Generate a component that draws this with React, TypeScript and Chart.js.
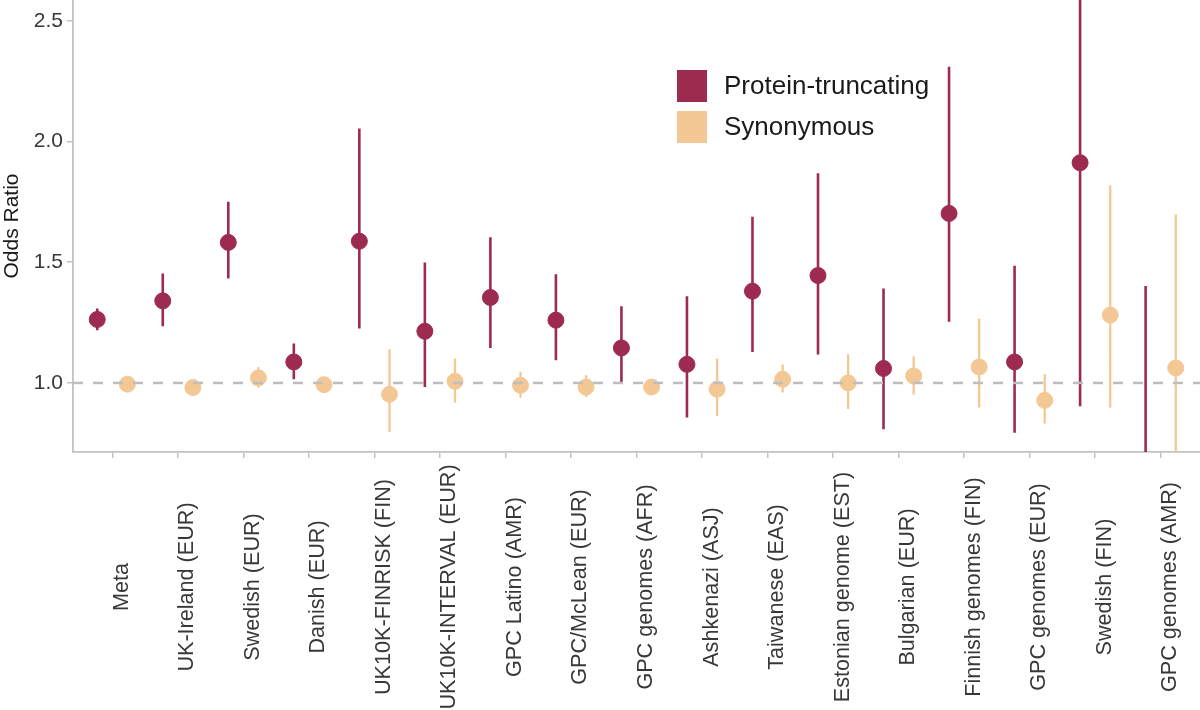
import React, { useEffect, useRef } from 'react';
import { Chart, registerables } from 'chart.js';

Chart.register(...registerables);

const categories = [
  'Meta',
  'UK-Ireland (EUR)',
  'Swedish (EUR)',
  'Danish (EUR)',
  'UK10K-FINRISK (FIN)',
  'UK10K-INTERVAL (EUR)',
  'GPC Latino (AMR)',
  'GPC/McLean (EUR)',
  'GPC genomes (AFR)',
  'Ashkenazi (ASJ)',
  'Taiwanese (EAS)',
  'Estonian genome (EST)',
  'Bulgarian (EUR)',
  'Finnish genomes (FIN)',
  'GPC genomes (EUR)',
  'Swedish (FIN)',
  'GPC genomes (AMR)',
];

const ptOR = [1.263, 1.34, 1.582, 1.087, 1.587, 1.214, 1.354, 1.26, 1.145, 1.077, 1.38, 1.445, 1.06, 1.702, 1.087, 1.912, 0.62];
const ptLow = [1.218, 1.235, 1.433, 1.015, 1.225, 0.983, 1.145, 1.094, 0.997, 0.857, 1.128, 1.118, 0.808, 1.253, 0.794, 0.903, 0.27];
const ptHigh = [1.308, 1.453, 1.75, 1.163, 2.054, 1.499, 1.603, 1.45, 1.318, 1.359, 1.688, 1.868, 1.391, 2.31, 1.485, 3.4, 1.401];

const synOR = [0.995, 0.981, 1.021, 0.993, 0.953, 1.007, 0.99, 0.983, 0.983, 0.974, 1.015, 1.0, 1.029, 1.066, 0.928, 1.281, 1.062];
const synLow = [0.98, 0.966, 0.98, 0.978, 0.797, 0.919, 0.939, 0.942, 0.955, 0.863, 0.96, 0.892, 0.952, 0.898, 0.832, 0.898, 0.55];
const synHigh = [1.01, 0.997, 1.066, 1.008, 1.14, 1.101, 1.046, 1.032, 1.015, 1.101, 1.076, 1.119, 1.111, 1.267, 1.036, 1.819, 1.698];

const yTickValues = [1.0, 1.5, 2.0, 2.5];
const yMin = 0.714;
const yMax = 2.586;
const refValue = 1.0;
const seriesNames = ['Protein-truncating', 'Synonymous'];

const PT_COLOR = '#9D2A4F';
const SYN_COLOR = '#F3C894';
const AXIS_COLOR = '#C2C2C2';
const REF_COLOR = '#BEBEBE';
const DODGE = 0.23;
const FONT = "'Liberation Sans', Arial, sans-serif";

function barData(off: number, low: number[], high: number[]) {
  const out: any[] = [];
  low.forEach((l, i) => {
    out.push({ x: i + off, y: l }, { x: i + off, y: high[i] }, { x: i + off, y: null });
  });
  return out;
}

function pointData(off: number, vals: number[]) {
  return vals.map((v, i) => ({ x: i + off, y: v }));
}

const overlayPlugin = {
  id: 'overlay',
  afterDraw(chart: any) {
    const ctx = chart.ctx;
    const xs = chart.scales.x;
    ctx.save();
    // x tick labels, rotated and centred
    ctx.font = `21.6px ${FONT}`;
    ctx.fillStyle = '#383838';
    ctx.textAlign = 'center';
    ctx.textBaseline = 'alphabetic';
    categories.forEach((c, i) => {
      const px = xs.getPixelForValue(i);
      ctx.save();
      ctx.translate(px + 15.5, 587);
      ctx.rotate(-Math.PI / 2);
      ctx.fillText(c, 0, 0);
      ctx.restore();
    });
    // legend
    const colors = [PT_COLOR, SYN_COLOR];
    ctx.font = `26px ${FONT}`;
    ctx.textAlign = 'left';
    ctx.textBaseline = 'middle';
    seriesNames.forEach((name, i) => {
      const top = 70 + i * 41;
      ctx.fillStyle = colors[i];
      ctx.fillRect(677, top, 30, 32);
      ctx.fillStyle = '#1a1a1a';
      ctx.fillText(name, 724, top + 17);
    });
    ctx.restore();
  },
};

export default function App() {
  const ref = useRef<HTMLCanvasElement | null>(null);

  useEffect(() => {
    if (!ref.current) return;
    const chart = new Chart(ref.current, {
      type: 'scatter',
      data: {
        datasets: [
          {
            label: 'ref',
            data: [
              { x: -0.6, y: refValue },
              { x: categories.length - 0.4, y: refValue },
            ],
            showLine: true,
            borderColor: REF_COLOR,
            borderWidth: 2.5,
            borderDash: [10, 10],
            pointRadius: 0,
            order: 0,
          } as any,
          {
            label: seriesNames[0],
            data: pointData(-DODGE, ptOR),
            backgroundColor: PT_COLOR,
            borderColor: PT_COLOR,
            borderWidth: 1,
            pointRadius: 8,
            order: 1,
          },
          {
            label: seriesNames[1],
            data: pointData(DODGE, synOR),
            backgroundColor: SYN_COLOR,
            borderColor: SYN_COLOR,
            borderWidth: 1,
            pointRadius: 8,
            order: 2,
          },
          {
            label: seriesNames[0] + ' CI',
            data: barData(-DODGE, ptLow, ptHigh),
            showLine: true,
            spanGaps: false,
            borderColor: PT_COLOR,
            borderWidth: 2.6,
            pointRadius: 0,
            order: 3,
          } as any,
          {
            label: seriesNames[1] + ' CI',
            data: barData(DODGE, synLow, synHigh),
            showLine: true,
            spanGaps: false,
            borderColor: SYN_COLOR,
            borderWidth: 2.3,
            pointRadius: 0,
            order: 4,
          } as any,
        ],
      },
      options: {
        responsive: false,
        animation: false,
        events: [],
        layout: { padding: 0, autoPadding: false },
        plugins: {
          legend: { display: false },
          tooltip: { enabled: false },
        },
        scales: {
          x: {
            type: 'linear',
            min: -0.6,
            max: categories.length - 0.4,
            afterBuildTicks: (scale: any) => {
              scale.ticks = categories.map((_, i) => ({ value: i }));
            },
            afterFit: (scale: any) => {
              scale.height = 258;
              scale.paddingLeft = 0;
              scale.paddingRight = 0;
            },
            ticks: { display: false },
            grid: {
              drawOnChartArea: false,
              drawTicks: true,
              tickLength: 6,
              color: AXIS_COLOR,
              lineWidth: 1.5,
            },
            border: { display: true, color: AXIS_COLOR, width: 1.8 },
          },
          y: {
            type: 'linear',
            min: yMin,
            max: yMax,
            afterBuildTicks: (scale: any) => {
              scale.ticks = yTickValues.map((v) => ({ value: v }));
            },
            afterFit: (scale: any) => {
              scale.width = 73;
              scale.paddingTop = 0;
              scale.paddingBottom = 0;
            },
            ticks: {
              padding: 4,
              color: '#383838',
              font: { family: FONT, size: 21 },
              callback: (v: any) => Number(v).toFixed(1),
            },
            grid: {
              drawOnChartArea: false,
              drawTicks: true,
              tickLength: 6,
              color: AXIS_COLOR,
              lineWidth: 1.5,
            },
            border: { display: true, color: AXIS_COLOR, width: 1.8 },
            title: {
              display: true,
              text: 'Odds Ratio',
              color: '#1a1a1a',
              font: { family: FONT, size: 21 },
              padding: { top: 0, bottom: 0 },
            },
          },
        },
      },
      plugins: [overlayPlugin],
    });
    return () => chart.destroy();
  }, []);

  return (
    <div style={{ position: 'absolute', left: 0, top: 0, width: 1200, height: 710, background: '#fff' }}>
      <canvas ref={ref} width={1200} height={710} style={{ display: 'block' }} />
    </div>
  );
}
